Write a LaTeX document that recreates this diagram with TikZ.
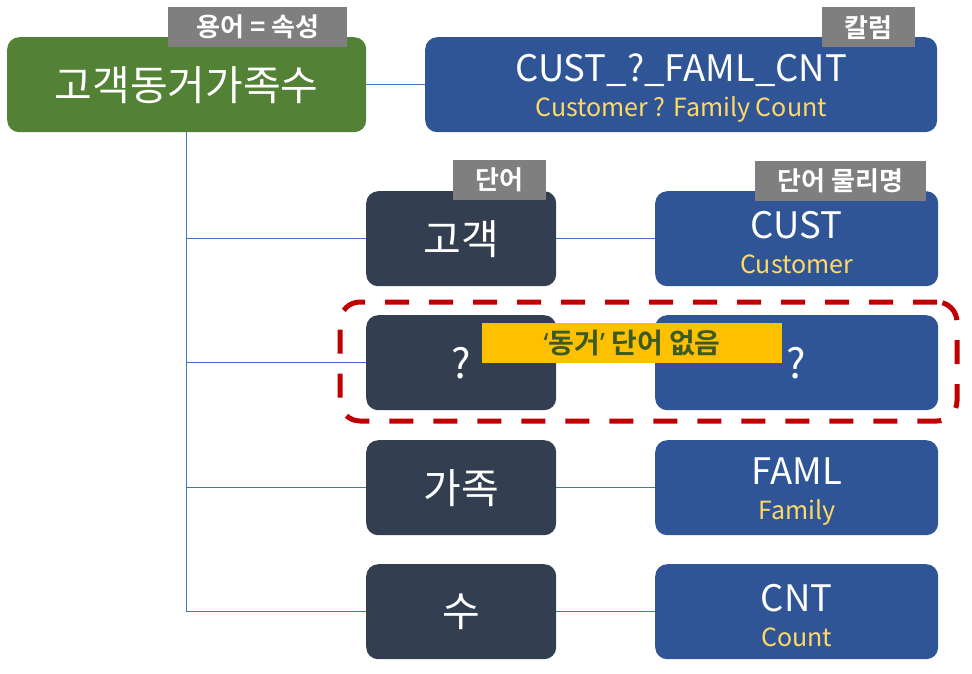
\documentclass[tikz,border=0pt]{standalone}
\usepackage{fontspec}
\setmainfont{Noto Sans CJK KR}[BoldFont={Noto Sans CJK KR Bold}]
\newfontfamily\quotefont{Noto Sans}
\usetikzlibrary{positioning}

\definecolor{termgreen}{HTML}{538135}
\definecolor{colblue}{HTML}{2F5597}
\definecolor{worddark}{HTML}{333F50}
\definecolor{taggray}{HTML}{7F7F7F}
\definecolor{linkblue}{HTML}{4472C4}
\definecolor{engyellow}{HTML}{FFD966}
\definecolor{warnred}{HTML}{C00000}
\definecolor{warnfill}{HTML}{FFC000}
\definecolor{warntext}{HTML}{3B5A24}

\newcommand{\hangultxt}{\fontsize{41}{44}\selectfont}
\newcommand{\physttxt}{\fontsize{36.5}{35}\selectfont}
\newcommand{\engtxt}{\fontsize{25}{28}\selectfont\color{engyellow}}
\newcommand{\tagtxt}{\fontsize{26}{28}\selectfont\bfseries}
% physical name over its English name
\newcommand{\physname}[2]{\rule{0pt}{34pt}#1\\{\engtxt #2}}

\begin{document}
\begin{tikzpicture}[x=1pt, y=-1pt,
  box/.style={rounded corners=12pt, inner sep=0pt, anchor=north west, text=white, align=center},
  termbox/.style={box, fill=termgreen, minimum width=359pt, minimum height=95pt, font=\hangultxt},
  colbox/.style={box, fill=colblue, minimum height=95pt, font=\physttxt},
  wordbox/.style={box, fill=worddark, minimum width=190pt, minimum height=95pt, font=\hangultxt},
  tag/.style={fill=taggray, text=white, font=\tagtxt, inner sep=0pt, anchor=north west, minimum height=40pt},
  link/.style={draw=linkblue, line width=0.8pt},
  warnframe/.style={draw=warnred, line width=5pt, dash pattern=on 24pt off 20pt, rounded corners=20pt,
    inner sep=0pt, outer sep=0pt, anchor=north west},
]
\useasboundingbox (0,0) rectangle (972,673);

% term and column
\node[termbox] (term) at (7,37) {고객동거가족수};
\node[colbox, minimum width=512pt] (col) at (425,37) {\physname{CUST\_?\_FAML\_CNT}{Customer ? Family Count}};
\draw[link] (term) -- (col);
\coordinate (trunk) at (186,132);

% words and physical names
\foreach \i/\t/\w/\p/\e in {1/191/고객/CUST/Customer, 3/440/가족/FAML/Family, 4/564/수/CNT/Count} {
  \node[wordbox] (w\i) at (366,\t) {\w};
  \node[colbox, minimum width=283pt] (p\i) at (655,\t) {\physname{\p}{\e}};
}
\node[wordbox] (w2) at (366,315) {?};
\node[colbox, minimum width=283pt] (p2) at (655,315) {\hangultxt ?};
\foreach \i in {1,...,4} {
  \draw[link] (trunk) |- (w\i.west);
  \draw[link] (w\i) -- (p\i);
}

% tags
\node[tag, minimum width=179pt] (termtag) at (168,7) {용어 = 속성};
\node[tag, minimum width=93pt] (coltag) at (822,7) {칼럼};
\node[tag, minimum width=93pt] (wordtag) at (453,160) {단어};
\node[tag, minimum width=171pt] (phystag) at (755,161) {단어 물리명};

% missing word
\node[warnframe, minimum width=617pt, minimum height=119pt] (gap) at (340,302) {};
\node[tag, fill=warnfill, text=warntext, minimum width=300pt, font=\fontsize{28}{30}\selectfont\bfseries]
  (gaptag) at (482,323) {{\quotefont ‘}동거{\quotefont ’} 단어 없음};
\end{tikzpicture}
\end{document}
